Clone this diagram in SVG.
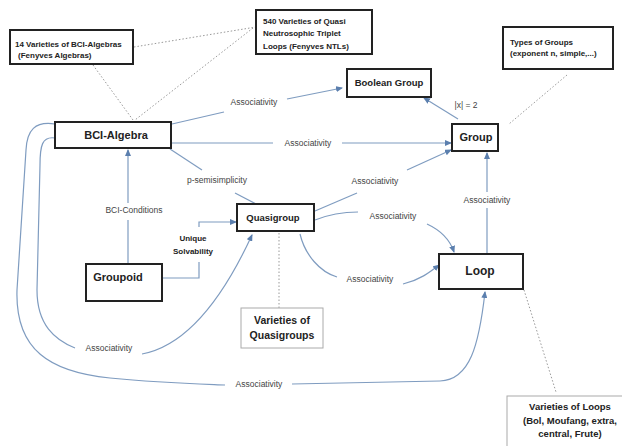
<svg xmlns="http://www.w3.org/2000/svg" width="622" height="446" viewBox="0 0 622 446">
<defs>
<marker id="ah" markerWidth="7" markerHeight="6" refX="6" refY="3" orient="auto" markerUnits="userSpaceOnUse">
<path d="M0,0 L7,3 L0,6 Z" fill="#5b7fae"/>
</marker>
<style>
.box{fill:#fff;stroke:#222;stroke-width:2}
.tbox{fill:#fff;stroke:#aaa;stroke-width:1}
.t{font-family:"Liberation Sans",Arial,sans-serif;font-weight:bold;fill:#222}
.lbl{font-family:"Liberation Sans",Arial,sans-serif;font-size:8.5px;fill:#444;text-anchor:middle}
.c{fill:none;stroke:#7f9cc0;stroke-width:1.2}
.a{marker-end:url(#ah)}
.d{fill:none;stroke:#999;stroke-width:1;stroke-dasharray:1.5,2}
</style>
</defs>
<rect width="622" height="446" fill="#fff"/>
<g id="connectors">
<path class="d" d="M93,65 L133,120"/>
<path class="d" d="M134,47 L256,27"/>
<path class="d" d="M253,28 L135,120"/>
<path class="d" d="M567,75 L509,124"/>
<path class="d" d="M279,233 L279,308"/>
<path class="d" d="M524,290 L556,392"/>
<path class="c" d="M172,124 L224,112"/>
<path class="c a" d="M287,99 L342,88"/>
<text class="lbl" x="254" y="105">Associativity</text>
<path class="c" d="M171,143 L273,143"/>
<path class="c a" d="M342,143 L451,143"/>
<text class="lbl" x="308" y="146">Associativity</text>
<path class="c" d="M170,149 L202,170"/>
<path class="c" d="M235,193 L256,204"/>
<text class="lbl" x="217" y="183">p-semisimplicity</text>
<path class="c" d="M128,263 L128,220"/>
<path class="c a" d="M128,203 L128,150"/>
<text class="lbl" x="134" y="213">BCI-Conditions</text>
<path class="c" d="M162,278 L199,278 L199,262"/>
<path class="c a" d="M199,227 L199,222 L236,222"/>
<text class="t" x="193" y="241" font-size="8" text-anchor="middle">Unique</text>
<text class="t" x="193" y="254" font-size="8" text-anchor="middle">Solvability</text>
<path class="c" d="M55,138 C42,136 40,146 40,165 L37,290 C37,325 55,340 75,348"/>
<path class="c a" d="M142,354 C185,346 222,300 252,235"/>
<text class="lbl" x="109" y="351">Associativity</text>
<path class="c" d="M55,124 C35,121 27,130 26,150 L17,290 C15,350 50,372 110,378 C160,383 200,384 225,385"/>
<path class="c a" d="M292,384 L440,381 C470,380 479,345 485,292"/>
<text class="lbl" x="259" y="387">Associativity</text>
<path class="c" d="M315,211 L357,193"/>
<path class="c a" d="M407,170 L451,150"/>
<text class="lbl" x="375" y="184">Associativity</text>
<path class="c" d="M315,220 C330,214 345,212 358,212"/>
<path class="c a" d="M427,224 C440,230 450,240 454,252"/>
<text class="lbl" x="393" y="219">Associativity</text>
<path class="c" d="M300,234 C305,255 320,272 337,277"/>
<path class="c a" d="M403,284 C420,280 430,272 439,265"/>
<text class="lbl" x="370" y="282">Associativity</text>
<path class="c" d="M487,254 L487,208"/>
<path class="c a" d="M487,192 L487,153"/>
<text class="lbl" x="487" y="203">Associativity</text>
<path class="c a" d="M458,119 L424,98"/>
<text class="lbl" x="466" y="108">|x| = 2</text>
</g>
<g id="n14">
<rect class="box" x="10" y="30" width="123" height="34"/>
<text class="t" font-size="8" x="15" y="47">14 Varieties of BCI-Algebras</text>
<text class="t" font-size="8" x="18" y="58">(Fenyves Algebras)</text>
</g>
<g id="n540">
<rect class="box" x="256" y="10" width="116" height="44"/>
<text class="t" font-size="8" x="263" y="24">540 Varieties of Quasi</text>
<text class="t" font-size="8" x="263" y="36">Neutrosophic  Triplet</text>
<text class="t" font-size="8" x="263" y="49">Loops  (Fenyves NTLs)</text>
</g>
<g id="types">
<rect class="box" x="503" y="27" width="110" height="42"/>
<text class="t" font-size="8" x="510" y="45">Types of Groups</text>
<text class="t" font-size="8" x="510" y="56">(exponent n, simple,...)</text>
</g>
<g id="boolean">
<rect class="box" x="347" y="69" width="84" height="28"/>
<text class="t" font-size="9.5" x="389" y="86" text-anchor="middle">Boolean Group</text>
</g>
<g id="group">
<rect class="box" x="452" y="124" width="46" height="27"/>
<text class="t" font-size="11" x="476" y="141" text-anchor="middle">Group</text>
</g>
<g id="bci">
<rect class="box" x="55" y="122" width="116" height="26"/>
<text class="t" font-size="11" x="116" y="139" text-anchor="middle">BCI-Algebra</text>
</g>
<g id="quasigroup">
<rect class="box" x="237" y="204" width="77" height="27"/>
<text class="t" font-size="9.5" x="273" y="221" text-anchor="middle">Quasigroup</text>
</g>
<g id="groupoid">
<rect class="box" x="86" y="264" width="76" height="37"/>
<text class="t" font-size="11" x="118" y="281" text-anchor="middle">Groupoid</text>
</g>
<g id="loop">
<rect class="box" x="439" y="254" width="84" height="35"/>
<text class="t" font-size="12" x="480" y="275" text-anchor="middle">Loop</text>
</g>
<g id="vq">
<rect class="tbox" x="241" y="308" width="82" height="40"/>
<text class="t" font-size="10.5" x="282" y="324" text-anchor="middle">Varieties of</text>
<text class="t" font-size="10.5" x="282" y="339" text-anchor="middle">Quasigroups</text>
</g>
<g id="vl">
<rect class="tbox" x="507" y="396" width="118" height="55"/>
<text class="t" font-size="9.5" x="570" y="410" text-anchor="middle">Varieties of Loops</text>
<text class="t" font-size="9.5" x="570" y="424" text-anchor="middle">(Bol, Moufang, extra,</text>
<text class="t" font-size="9.5" x="570" y="437" text-anchor="middle">central, Frute)</text>
</g>
</svg>
